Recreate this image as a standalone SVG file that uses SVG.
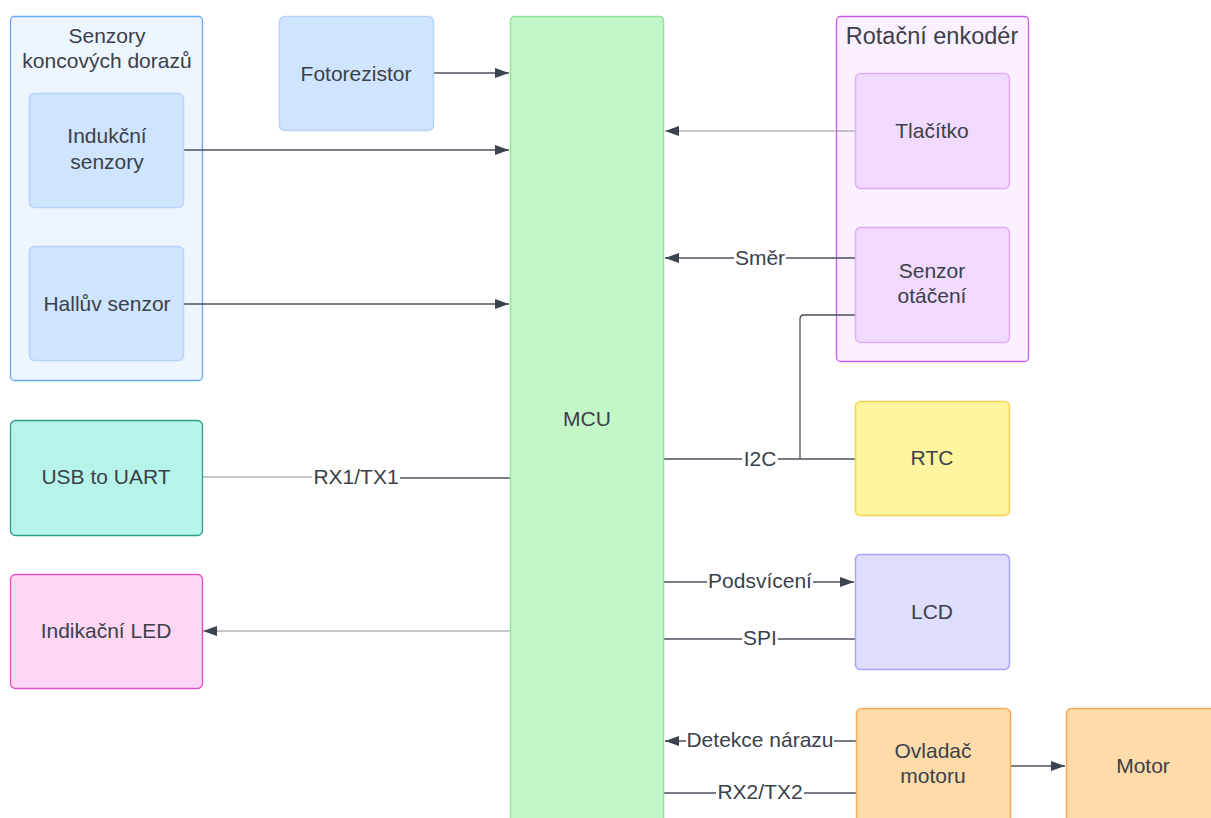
<svg xmlns="http://www.w3.org/2000/svg" width="1211" height="818" viewBox="0 0 1211 818">
<defs>
<marker id="arr" viewBox="0 0 14 10" refX="14" refY="5" markerWidth="14" markerHeight="10" markerUnits="userSpaceOnUse" orient="auto">
<path d="M0,0 L14,5 L0,10 Z" fill="#3c4350"/>
</marker>
<style>
text{font-family:"Liberation Sans",Arial,sans-serif;font-size:21px;fill:#3a414a;text-anchor:middle;dominant-baseline:central}
.c{fill:none;stroke:#4a515c;stroke-width:1.3}
.cl{fill:none;stroke:#8c9099;stroke-width:1.2}
.lb{fill:#fff}
</style>
</defs>
<rect width="1211" height="818" fill="#fff"/>
<g id="senzory-group">
<rect x="10.5" y="16.5" width="192" height="364" rx="4" fill="#edf5ff" stroke="#6aa9f5" stroke-width="1.3"/>
<text x="107" y="35">Senzory</text>
<text x="107" y="60">koncových dorazů</text>
</g>
<g id="enkoder-group">
<rect x="836.5" y="16.5" width="192" height="345" rx="4" fill="#fbf0ff" stroke="#c85cf0" stroke-width="1.3"/>
<text x="932" y="36" style="font-size:23.5px">Rotační enkodér</text>
</g>
<g id="connectors">
<line class="c" x1="433" y1="73" x2="509" y2="73" marker-end="url(#arr)"/>
<line class="c" x1="184" y1="150" x2="509" y2="150" marker-end="url(#arr)"/>
<line class="c" x1="184" y1="304" x2="509" y2="304" marker-end="url(#arr)"/>
<line class="cl" x1="855" y1="131" x2="665" y2="131" marker-end="url(#arr)"/>
<line class="c" x1="855" y1="258" x2="665" y2="258" marker-end="url(#arr)"/>
<path class="c" d="M855,315 H804 Q800,315 800,319 V459"/>
<line class="c" x1="664" y1="459" x2="855" y2="459"/>
<line class="c" x1="664" y1="582" x2="854" y2="582" marker-end="url(#arr)"/>
<line class="c" x1="664" y1="639" x2="855" y2="639"/>
<line class="c" x1="856" y1="741" x2="665" y2="741" marker-end="url(#arr)"/>
<line class="c" x1="664" y1="793" x2="856" y2="793"/>
<line class="c" x1="1010" y1="766" x2="1065" y2="766" marker-end="url(#arr)"/>
<line class="cl" x1="202" y1="477" x2="356" y2="477"/>
<line class="c" x1="356" y1="478" x2="510" y2="478"/>
<line class="cl" x1="510" y1="631" x2="203" y2="631" marker-end="url(#arr)"/>
<rect class="lb" x="734" y="246" width="52" height="24"/>
<text x="760" y="257">Směr</text>
<rect class="lb" x="742" y="447" width="36" height="24"/>
<text x="760" y="458">I2C</text>
<rect class="lb" x="707" y="570" width="106" height="24"/>
<text x="760" y="580">Podsvícení</text>
<rect class="lb" x="742" y="627" width="36" height="24"/>
<text x="760" y="637">SPI</text>
<rect class="lb" x="686" y="729" width="148" height="24"/>
<text x="760" y="739">Detekce nárazu</text>
<rect class="lb" x="716" y="781" width="88" height="24"/>
<text x="760" y="791">RX2/TX2</text>
<rect class="lb" x="312" y="465" width="88" height="24"/>
<text x="356" y="476">RX1/TX1</text>
</g>
<g id="indukcni">
<rect x="29.5" y="93.5" width="154" height="114" rx="5" fill="#cfe4ff" stroke="#b6d4fa" stroke-width="1.5"/>
<text x="107" y="135">Indukční</text>
<text x="107" y="161">senzory</text>
</g>
<g id="hall">
<rect x="29.5" y="246.5" width="154" height="114" rx="5" fill="#cfe4ff" stroke="#b6d4fa" stroke-width="1.5"/>
<text x="107" y="303">Hallův senzor</text>
</g>
<g id="fotorezistor">
<rect x="279.5" y="16.5" width="154" height="114" rx="5" fill="#cfe4ff" stroke="#b6d4fa" stroke-width="1.5"/>
<text x="356" y="73">Fotorezistor</text>
</g>
<g id="mcu">
<rect x="510.5" y="16.5" width="153" height="820" rx="4" fill="#c3f7c8" stroke="#92e49c" stroke-width="1.5"/>
<text x="587" y="418">MCU</text>
</g>
<g id="tlacitko">
<rect x="855.5" y="73.5" width="154" height="115" rx="5" fill="#f2d9ff" stroke="#e3acf8" stroke-width="1.5"/>
<text x="932" y="130">Tlačítko</text>
</g>
<g id="senzor-otaceni">
<rect x="855.5" y="227.5" width="154" height="115" rx="5" fill="#f2d9ff" stroke="#e3acf8" stroke-width="1.5"/>
<text x="932" y="270">Senzor</text>
<text x="932" y="295">otáčení</text>
</g>
<g id="rtc">
<rect x="855.5" y="401.5" width="154" height="114" rx="5" fill="#fff59e" stroke="#f5d44e" stroke-width="1.5"/>
<text x="932" y="457">RTC</text>
</g>
<g id="lcd">
<rect x="855.5" y="554.5" width="154" height="115" rx="5" fill="#dedeff" stroke="#a6a6f6" stroke-width="1.5"/>
<text x="932" y="611">LCD</text>
</g>
<g id="ovladac">
<rect x="856.5" y="708.5" width="154" height="130" rx="5" fill="#ffdba9" stroke="#f7aa55" stroke-width="1.5"/>
<text x="933" y="750">Ovladač</text>
<text x="933" y="775">motoru</text>
</g>
<g id="motor">
<rect x="1066.5" y="708.5" width="154" height="130" rx="5" fill="#ffdba9" stroke="#f7aa55" stroke-width="1.5"/>
<text x="1143" y="765">Motor</text>
</g>
<g id="usb-uart">
<rect x="10.5" y="420.5" width="192" height="115" rx="5" fill="#b6f4ea" stroke="#2b9e8c" stroke-width="1.3"/>
<text x="106" y="476">USB to UART</text>
</g>
<g id="led">
<rect x="10.5" y="574.5" width="192" height="114" rx="5" fill="#ffd6f3" stroke="#e64fc4" stroke-width="1.3"/>
<text x="106" y="630">Indikační LED</text>
</g>
</svg>
